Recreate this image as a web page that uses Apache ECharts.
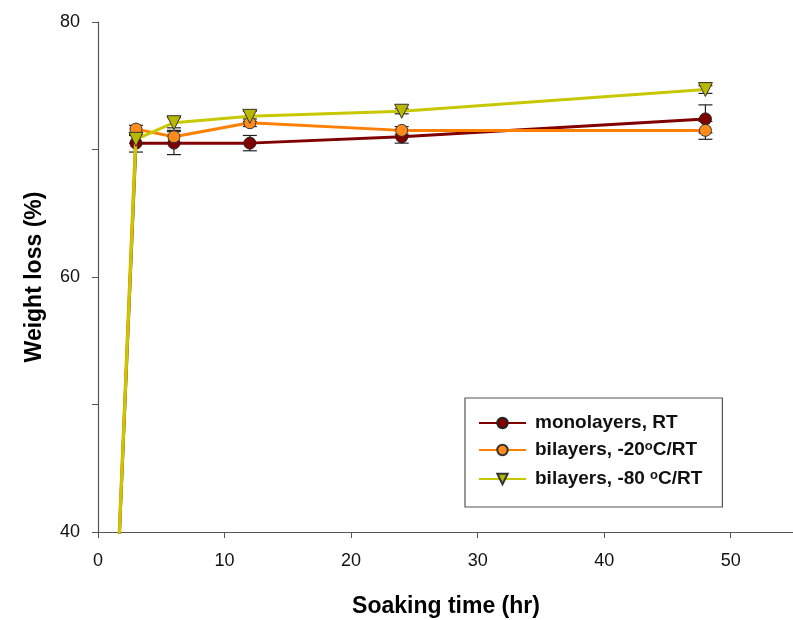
<!DOCTYPE html>
<html>
<head>
<meta charset="utf-8">
<script src="https://cdn.jsdelivr.net/npm/echarts@6/dist/echarts.min.js"></script>
<style>html,body{margin:0;padding:0;background:#fff;}#c{width:793px;height:620px;}</style>
</head>
<body>
<div id="c"></div>
<script>
const times = [0, 3, 6, 12, 24, 48];
const monoVals = [0, 70.5, 70.5, 70.5, 71.0, 72.4];
const monoErr = [0, 0.7, 0.9, 0.6, 0.5, 1.1];
const bi20Vals = [0, 71.6, 71.0, 72.1, 71.5, 71.5];
const bi20Err = [0, 0.3, 0.5, 0.3, 0.3, 0.7];
const bi80Vals = [0, 70.8, 72.1, 72.6, 73.0, 74.7];
const bi80Err = [0, 0.3, 0.4, 0.4, 0.2, 0.3];
const seriesNames = ['monolayers, RT', 'bilayers, -20°C/RT', 'bilayers, -80 °C/RT'];
const xTicks = [0, 10, 20, 30, 40, 50];
const yTicks = [40, 60, 80];

const FONT = '"Liberation Sans", Arial, sans-serif';

function lineData(vals) {
  return times.map((t, i) => i === 0 ? {value: [t, vals[i]], symbol: 'none'} : [t, vals[i]]);
}
function errData(vals, errs) {
  const out = [];
  times.forEach((t, i) => { if (i > 0) out.push([t, vals[i] - errs[i], vals[i] + errs[i]]); });
  return out;
}
function errSeries(vals, errs) {
  return {
    type: 'custom',
    data: errData(vals, errs),
    z: 3,
    silent: true,
    renderItem: function (params, api) {
      const x = api.value(0);
      const lo = api.coord([x, api.value(1)]);
      const hi = api.coord([x, api.value(2)]);
      const hw = 7;
      const st = {stroke: '#222', lineWidth: 1.2, fill: null};
      return {
        type: 'group',
        children: [
          {type: 'line', shape: {x1: lo[0], y1: lo[1], x2: hi[0], y2: hi[1]}, style: st},
          {type: 'line', shape: {x1: lo[0] - hw, y1: lo[1], x2: lo[0] + hw, y2: lo[1]}, style: st},
          {type: 'line', shape: {x1: hi[0] - hw, y1: hi[1], x2: hi[0] + hw, y2: hi[1]}, style: st}
        ]
      };
    }
  };
}

const chart = echarts.init(document.getElementById('c'), null, {renderer: 'canvas'});
chart.setOption({
  animation: false,
  backgroundColor: '#fff',
  grid: {left: 98, top: 22, width: 696, height: 510, outerBoundsMode: 'none', containLabel: false},
  xAxis: {
    type: 'value', min: 0, max: 55, interval: 10,
    name: 'Soaking time (hr)', nameLocation: 'middle', nameGap: 63,
    nameTextStyle: {fontFamily: FONT, fontWeight: 'bold', fontSize: 23, color: '#000'},
    axisLine: {show: true, lineStyle: {color: '#555', width: 1.2}},
    axisTick: {show: true, length: 6, lineStyle: {color: '#555'}},
    axisLabel: {fontFamily: FONT, fontSize: 18, color: '#111', margin: 20, showMaxLabel: false,
      formatter: v => xTicks.includes(v) ? String(v) : ''},
    splitLine: {show: false}
  },
  yAxis: {
    type: 'value', min: 40, max: 80, interval: 20,
    name: 'Weight loss (%)', nameLocation: 'middle', nameGap: 52,
    nameTextStyle: {fontFamily: FONT, fontWeight: 'bold', fontSize: 23, color: '#000'},
    axisLine: {show: true, lineStyle: {color: '#555', width: 1.2}},
    axisTick: {show: true, length: 6, lineStyle: {color: '#555'}},
    minorTick: {show: true, splitNumber: 2, length: 6, lineStyle: {color: '#555'}},
    axisLabel: {fontFamily: FONT, fontSize: 18, color: '#111', margin: 18,
      formatter: v => yTicks.includes(v) ? String(v) : ''},
    splitLine: {show: false}
  },
  legend: {
    left: 465, top: 398,
    orient: 'vertical',
    itemWidth: 47, itemHeight: 13, itemGap: 7,
    padding: [15, 20, 16, 13],
    borderColor: '#555', borderWidth: 1.2,
    backgroundColor: '#fff',
    data: seriesNames,
    formatter: function (name) {
      if (name === seriesNames[1]) return '{f|bilayers, -20}{s|o}{b|C/RT}';
      if (name === seriesNames[2]) return '{f|bilayers, -80 }{s|o}{b|C/RT}';
      return '{f|' + name + '}';
    },
    textStyle: {
      fontFamily: FONT, fontSize: 19, fontWeight: 'bold', color: '#111', lineHeight: 20,
      rich: {
        f: {fontFamily: FONT, fontSize: 19, fontWeight: 'bold', color: '#111', lineHeight: 20, padding: [0, 0, 0, 4]},
        b: {fontFamily: FONT, fontSize: 19, fontWeight: 'bold', color: '#111', lineHeight: 20},
        s: {fontFamily: FONT, fontSize: 13, fontWeight: 'bold', color: '#111', lineHeight: 20, verticalAlign: 'top', padding: [0, 0, 9, 0]}
      }
    }
  },
  series: [
    {
      name: seriesNames[0], type: 'line', data: lineData(monoVals), z: 4,
      symbol: 'circle', symbolSize: 12,
      lineStyle: {color: '#800000', width: 3},
      itemStyle: {color: '#800000', borderColor: '#222', borderWidth: 1}
    },
    {
      name: seriesNames[1], type: 'line', data: lineData(bi20Vals), z: 5,
      symbol: 'circle', symbolSize: 12,
      lineStyle: {color: '#ff8000', width: 3},
      itemStyle: {color: '#ff8c1a', borderColor: '#333', borderWidth: 1}
    },
    {
      name: seriesNames[2], type: 'line', data: lineData(bi80Vals), z: 6,
      symbol: 'triangle', symbolRotate: 180, symbolSize: 14,
      lineStyle: {color: '#c8c800', width: 3},
      itemStyle: {color: '#b8b800', borderColor: '#333', borderWidth: 1}
    },
    errSeries(monoVals, monoErr),
    errSeries(bi20Vals, bi20Err),
    errSeries(bi80Vals, bi80Err)
  ]
});
</script>
</body>
</html>
